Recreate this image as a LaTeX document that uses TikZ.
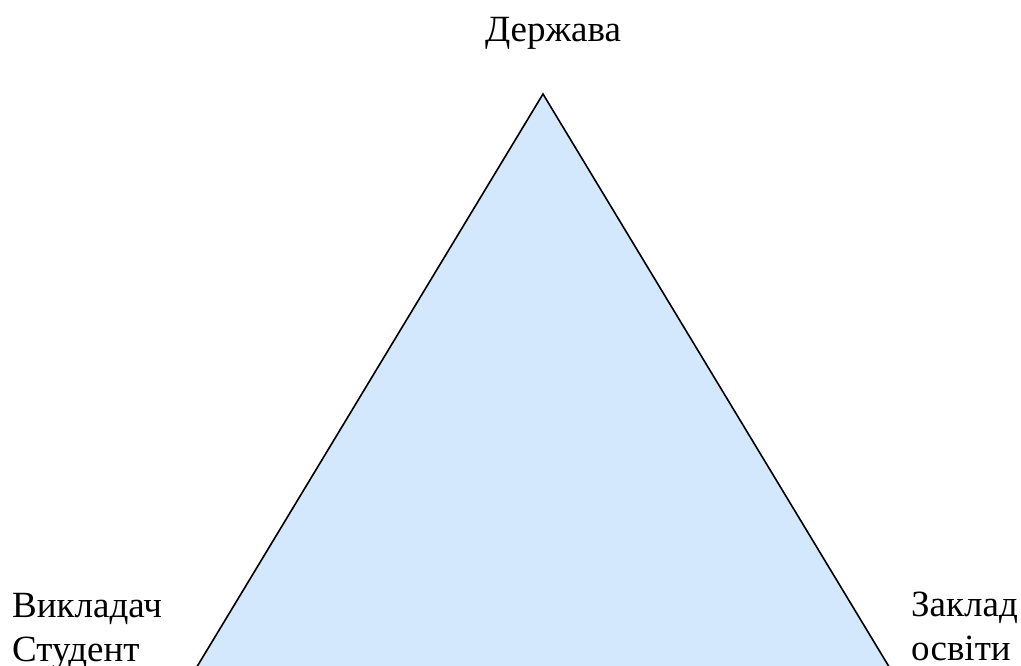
\documentclass[tikz,border=0pt]{standalone}
\usepackage{fontspec}
\setmainfont{Liberation Serif}
\definecolor{trifill}{RGB}{211,231,253}
\begin{document}
\begin{tikzpicture}[x=1pt,y=-1pt,
  lbl/.style={font=\fontsize{37}{44}\selectfont, inner sep=0pt, align=left}]
\useasboundingbox (0,0) rectangle (1021,666);
\clip (0,0) rectangle (1021,666);
\coordinate (apex) at (543,94);
\coordinate (bl) at (195,670);
\coordinate (br) at (891,670);
\fill[trifill] (apex) -- (bl) -- (br) -- cycle;
\draw[line width=1.6pt, line join=miter] (bl) -- (apex) -- (br);
\node[lbl, anchor=base] (top) at (553,42) {Держава};
\node[lbl, anchor=north west] (left) at (12,593) {Викладач\\Студент};
\node[lbl, anchor=north west] (right) at (911,592) {Заклад\\освіти};
\end{tikzpicture}
\end{document}
